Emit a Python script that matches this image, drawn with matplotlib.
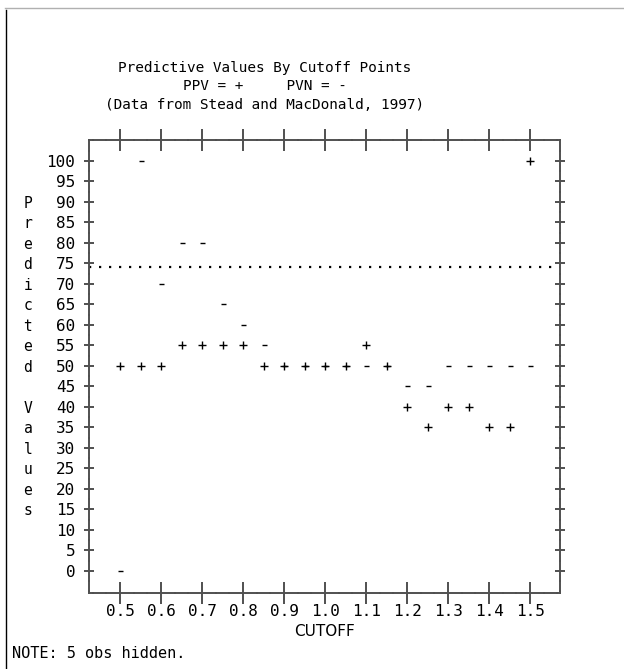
import matplotlib
matplotlib.use('Agg')
import matplotlib.pyplot as plt
from matplotlib.lines import Line2D
from matplotlib.ticker import MultipleLocator
import matplotlib.transforms as mtransforms

# data
cutoff = [0.50, 0.55, 0.60, 0.65, 0.70, 0.75, 0.80, 0.85, 0.90, 0.95, 1.00,
          1.05, 1.10, 1.15, 1.20, 1.25, 1.30, 1.35, 1.40, 1.45, 1.50]
ppv = [50, 50, 50, 55, 55, 55, 55, 50, 50, 50, 50,
       50, 55, 50, 40, 35, 40, 40, 35, 35, 100]
pvn = [0, 100, 70, 80, 80, 65, 60, 55, 50, 50, 50,
       50, 50, 50, 45, 45, 50, 50, 50, 50, 50]
ref_level = 74

x_ticks = [0.5, 0.6, 0.7, 0.8, 0.9, 1.0, 1.1, 1.2, 1.3, 1.4, 1.5]
x_labels = ['0.5', '0.6', '0.7', '0.8', '0.9', '1.0', '1.1', '1.2', '1.3', '1.4', '1.5']
y_ticks = list(range(0, 101, 5))
title_lines = ['Predictive Values By Cutoff Points',
               'PPV = +     PVN = -',
               '(Data from Stead and MacDonald, 1997)']
ylabel_text = 'Predicted Values'

plt.rcParams['font.family'] = 'DejaVu Sans Mono'

W, H = 624, 669
def fx(x):
    return x / W
def fy(y):
    return 1 - y / H

fig = plt.figure(figsize=(W / 100, H / 100), dpi=100)
ax = fig.add_axes([fx(89), fy(593), fx(560) - fx(89), fy(140) - fy(593)])

axis_col = '#505050'

# PVN first, PPV on top (hidden obs lie under the +)
ax.plot(cutoff, pvn, linestyle='none', marker='_', ms=3.6, mew=1.0, color='black')
ax.plot(cutoff, ppv, linestyle='none', marker='+', ms=5.5, mew=1.0, color='black')

# reference line
ax.axhline(ref_level, color='black', lw=1.6, linestyle=(0, (1, 3.5)),
           dash_capstyle='butt')

ax.set_xlim(0.4244, 1.573)
ax.set_ylim(-5.4, 105.1)

ax.set_xticks(x_ticks)
ax.set_xticklabels(x_labels)
ax.set_yticks(y_ticks)
ax.set_yticklabels([str(v) for v in y_ticks])
ax.xaxis.set_minor_locator(MultipleLocator(0.1 / 3))
ax.yaxis.set_minor_locator(MultipleLocator(2.5))

ax.tick_params(axis='x', which='major', direction='inout', length=15.8, width=1.4,
               top=True, labeltop=False, pad=0, colors=axis_col, labelcolor='black',
               labelsize=11.5)
ax.tick_params(axis='y', which='major', direction='inout', length=7.9, width=1.4,
               right=True, labelright=False, pad=6, colors=axis_col, labelcolor='black',
               labelsize=11.5)
ax.tick_params(which='minor', direction='inout', length=1.2, width=1.4,
               top=True, right=True, colors='#303030')

for sp in ax.spines.values():
    sp.set_color(axis_col)
    sp.set_linewidth(1.4)

ax.set_xlabel('CUTOFF', family='DejaVu Sans', fontsize=11)
ax.xaxis.set_label_coords(0.5, -(632 - 593) / (593 - 140), transform=ax.transAxes)
ax.xaxis.label.set_va('center')

# vertical stacked y label, one letter per tick row
trans = mtransforms.blended_transform_factory(fig.transFigure, ax.transData)
row = 90
for ch in ylabel_text:
    if ch != ' ':
        ax.text(fx(28), row, ch, transform=trans, ha='center', va='center_baseline',
                fontsize=10.5)
    row -= 5

# title lines
for i, line in enumerate(title_lines):
    fig.text(fx(265), fy(68 + 18.5 * i), line, ha='center', va='center', fontsize=10.4)

fig.text(fx(12), fy(653), 'NOTE: 5 obs hidden.', ha='left', va='center', fontsize=11)

# page border lines
fig.add_artist(Line2D([fx(5), 1], [fy(8), fy(8)], color='#b0b0b0', lw=1.0))
fig.add_artist(Line2D([fx(6), fx(6)], [fy(10), 0], color='black', lw=1.0))

plt.savefig('out.png', dpi=100)
